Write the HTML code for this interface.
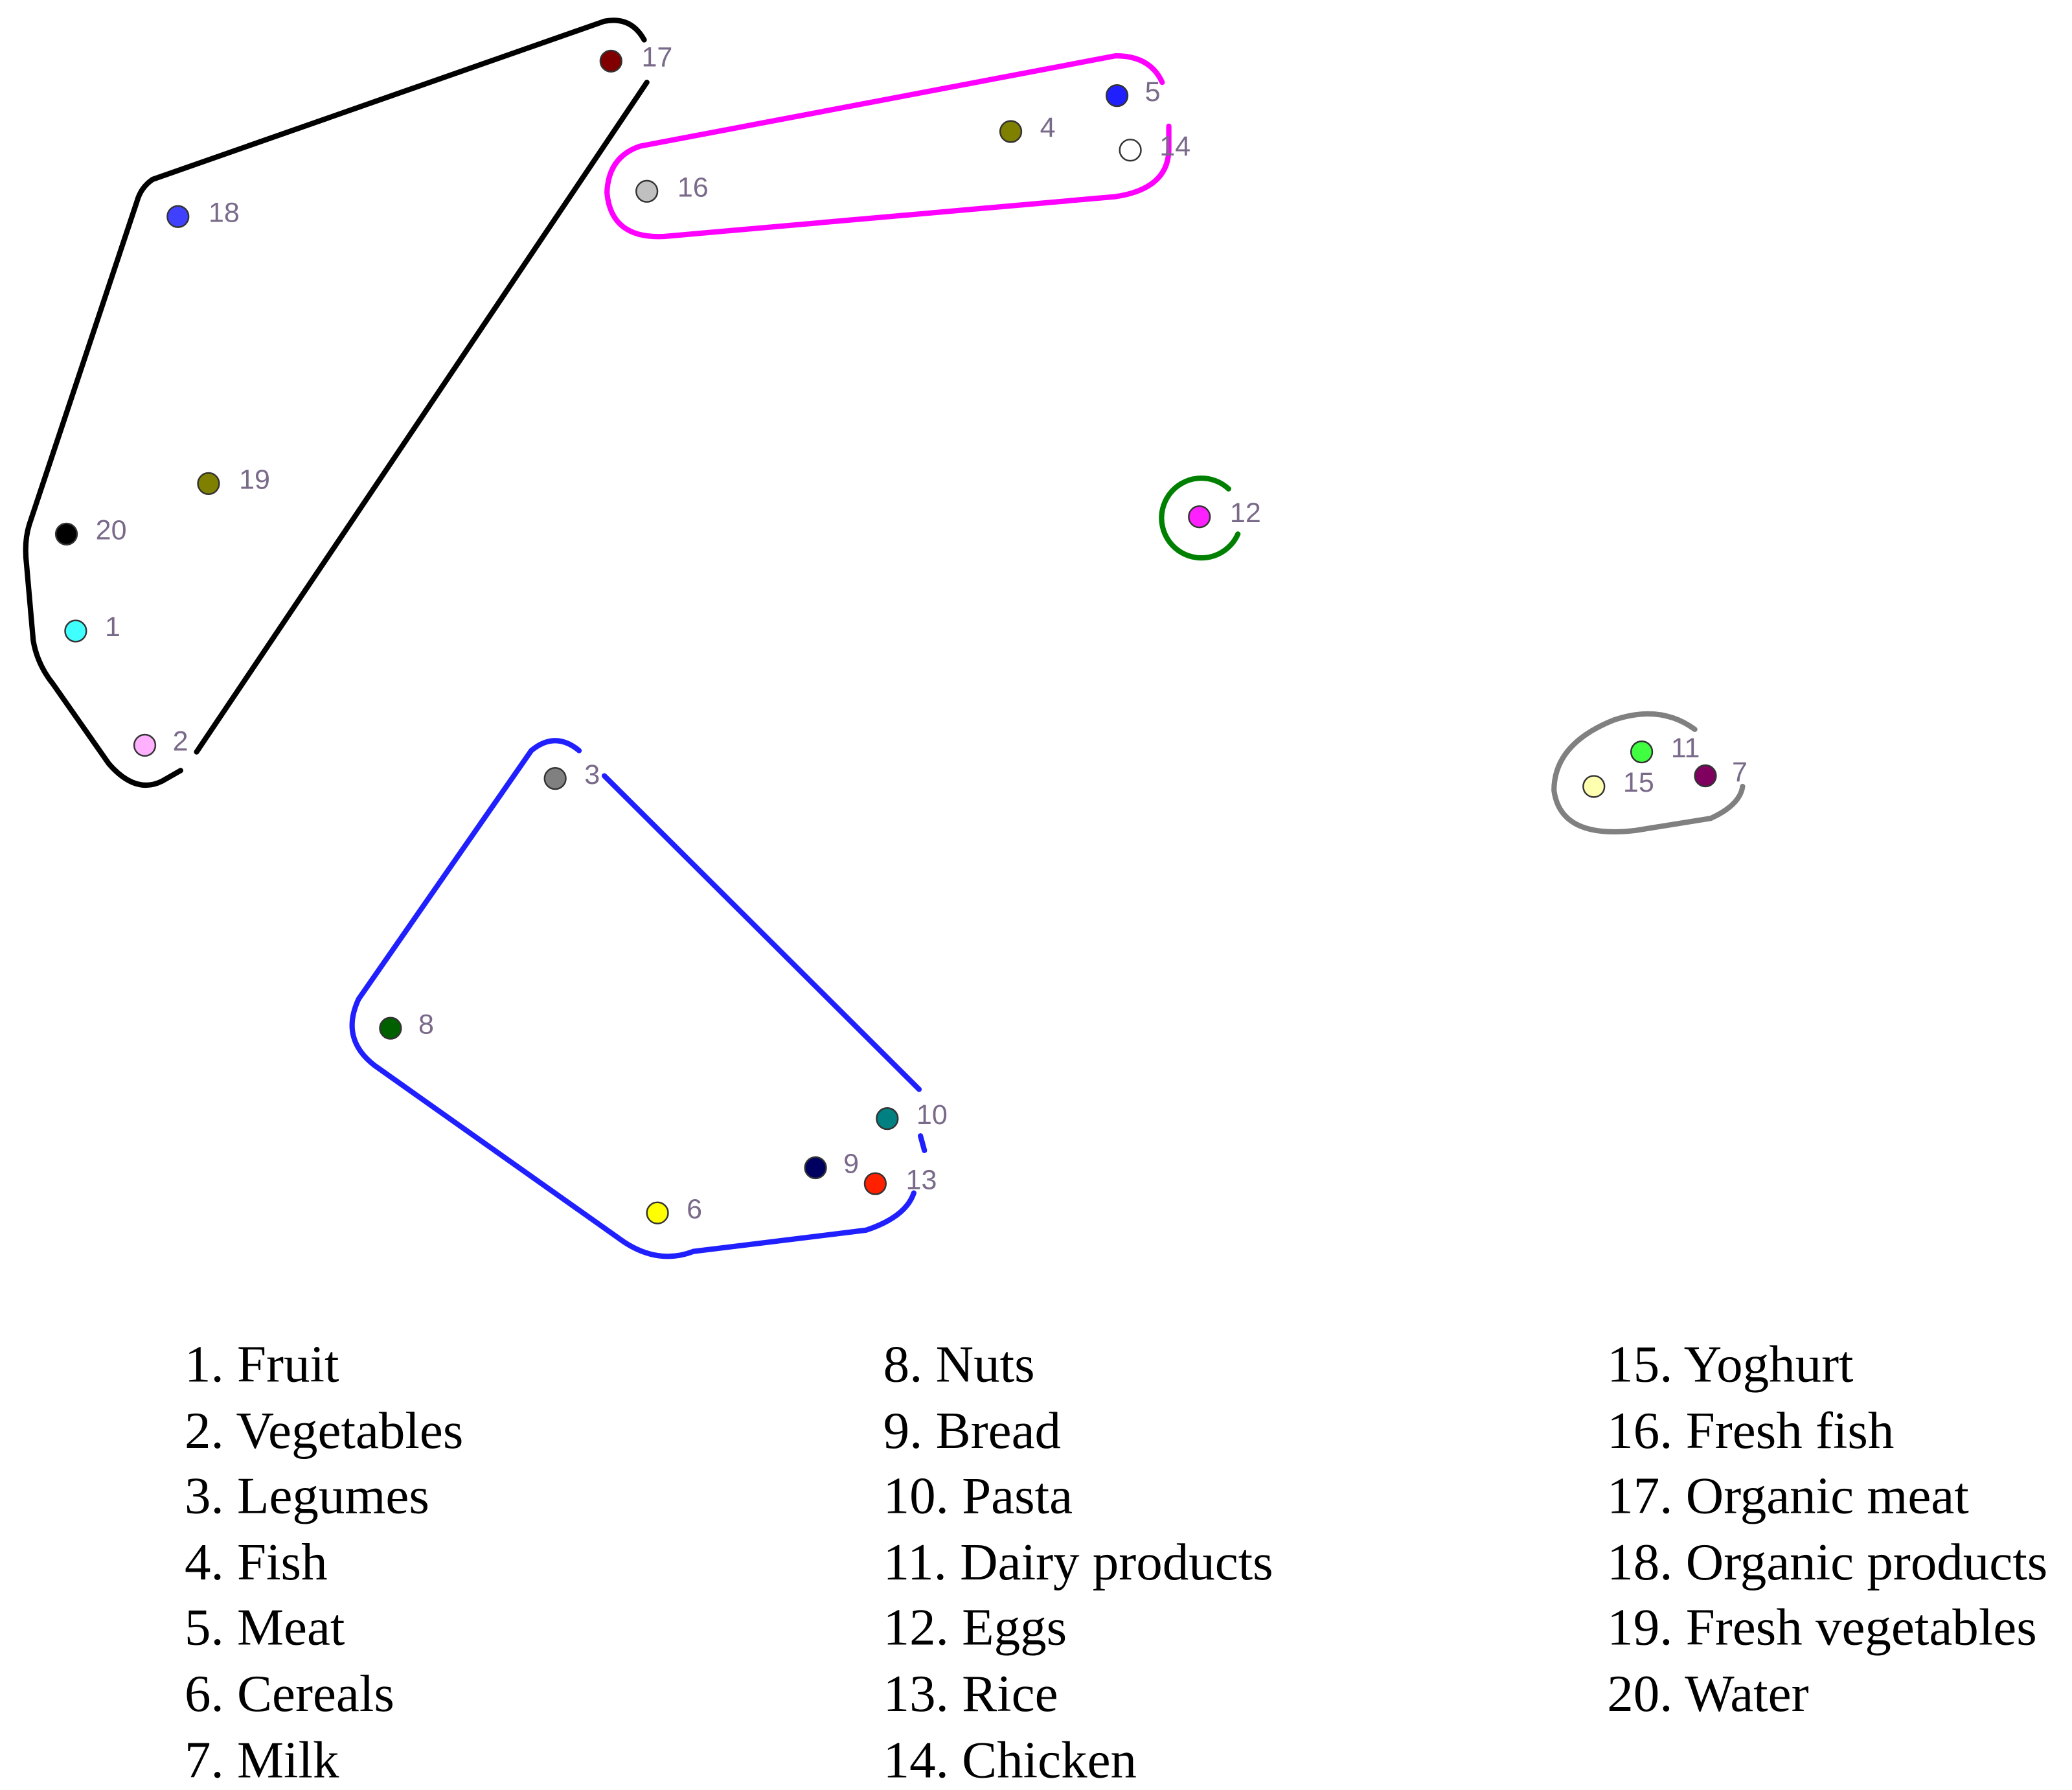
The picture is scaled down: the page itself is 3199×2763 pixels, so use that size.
<!DOCTYPE html>
<html><head><meta charset="utf-8"><style>
html,body{margin:0;padding:0;background:#fff;}
svg{display:block;}
.l{font-family:"Liberation Sans",sans-serif;font-size:21px;fill:#7a6a8a;}
.t{font-family:"Liberation Serif",serif;font-size:39.5px;fill:#000;}
</style></head><body>
<svg width="3199" height="2763" viewBox="0 0 1560 1347.4" preserveAspectRatio="none" xmlns="http://www.w3.org/2000/svg">
<rect width="1560" height="1347.4" fill="#fff"/>
<g fill="none" stroke-width="4" stroke-linecap="round">
<path d="M485,30 Q475,12 455,16 L115,135 Q106,141 103,152 L22,395 Q18,408 20,425 L25,482 Q28,500 40,515 L82,575 Q102,598 122,588 L136,580" stroke="#000"/>
<path d="M148,566 L487,62" stroke="#000"/>
<path d="M875,62 Q866,42 840,42 L482,110 Q458,118 457,145 Q460,180 500,178 L840,148 Q880,142 880,112 L880,95" stroke="#ff00ff"/>
<path d="M925,368 A30,30 0 1,0 932,402" stroke="#008000"/>
<path d="M1276,549 Q1250,530 1215,542 Q1170,560 1170,595 Q1175,632 1232,625 L1288,616 Q1310,606 1312,592" stroke="#808080"/>
<path d="M436,565 Q418,550 400,565 L270,752 Q256,782 282,802 L470,935 Q496,952 522,942 L652,926 Q682,916 688,898" stroke="#2020ff"/>
<path d="M692,820 L455,584" stroke="#2020ff"/>
<path d="M696,866 L693,855" stroke="#2020ff"/>
</g>
<g stroke="#333" stroke-width="1.2">
<circle cx="460" cy="46" r="8" fill="#800000"/>
<circle cx="134" cy="163" r="8" fill="#4040ff"/>
<circle cx="157" cy="364" r="8" fill="#808000"/>
<circle cx="50" cy="402" r="8" fill="#000"/>
<circle cx="57" cy="475" r="8" fill="#40ffff"/>
<circle cx="109" cy="561" r="8" fill="#ffb0ff"/>
<circle cx="487" cy="144" r="8" fill="#c0c0c0"/>
<circle cx="761" cy="99" r="8" fill="#808000"/>
<circle cx="841" cy="72" r="8" fill="#2020ff"/>
<circle cx="851" cy="113" r="8" fill="#fff"/>
<circle cx="903" cy="389" r="8" fill="#ff20ff"/>
<circle cx="1236" cy="566" r="8" fill="#40ff40"/>
<circle cx="1200" cy="592" r="8" fill="#ffffb0"/>
<circle cx="1284" cy="584" r="8" fill="#800060"/>
<circle cx="418" cy="586" r="8" fill="#808080"/>
<circle cx="294" cy="774" r="8" fill="#006000"/>
<circle cx="668" cy="842" r="8" fill="#008080"/>
<circle cx="614" cy="879" r="8" fill="#000060"/>
<circle cx="659" cy="891" r="8" fill="#ff2000"/>
<circle cx="495" cy="913" r="8" fill="#ffff00"/>
</g>
<g class="l">
<text x="483" y="50">17</text><text x="157" y="167">18</text><text x="180" y="368">19</text>
<text x="72" y="406">20</text><text x="79" y="479">1</text><text x="130" y="565">2</text>
<text x="510" y="148">16</text><text x="783" y="103">4</text><text x="862" y="76">5</text>
<text x="873" y="117">14</text><text x="926" y="393">12</text><text x="1258" y="570">11</text>
<text x="1222" y="596">15</text><text x="1304" y="588">7</text><text x="440" y="590">3</text>
<text x="315" y="778">8</text><text x="690" y="846">10</text><text x="635" y="883">9</text>
<text x="682" y="895">13</text><text x="517" y="917">6</text>
</g>
<g class="t">
<text x="139" y="1040">1. Fruit</text><text x="139" y="1090">2. Vegetables</text><text x="139" y="1139">3. Legumes</text>
<text x="139" y="1189">4. Fish</text><text x="139" y="1238">5. Meat</text><text x="139" y="1288">6. Cereals</text>
<text x="139" y="1338">7. Milk</text>
<text x="665" y="1040">8. Nuts</text><text x="665" y="1090">9. Bread</text><text x="665" y="1139">10. Pasta</text>
<text x="665" y="1189">11. Dairy products</text><text x="665" y="1238">12. Eggs</text><text x="665" y="1288">13. Rice</text>
<text x="665" y="1338">14. Chicken</text>
<text x="1210" y="1040">15. Yoghurt</text><text x="1210" y="1090">16. Fresh fish</text><text x="1210" y="1139">17. Organic meat</text>
<text x="1210" y="1189">18. Organic products</text><text x="1210" y="1238">19. Fresh vegetables</text><text x="1210" y="1288">20. Water</text>
</g>
</svg>
</body></html>
